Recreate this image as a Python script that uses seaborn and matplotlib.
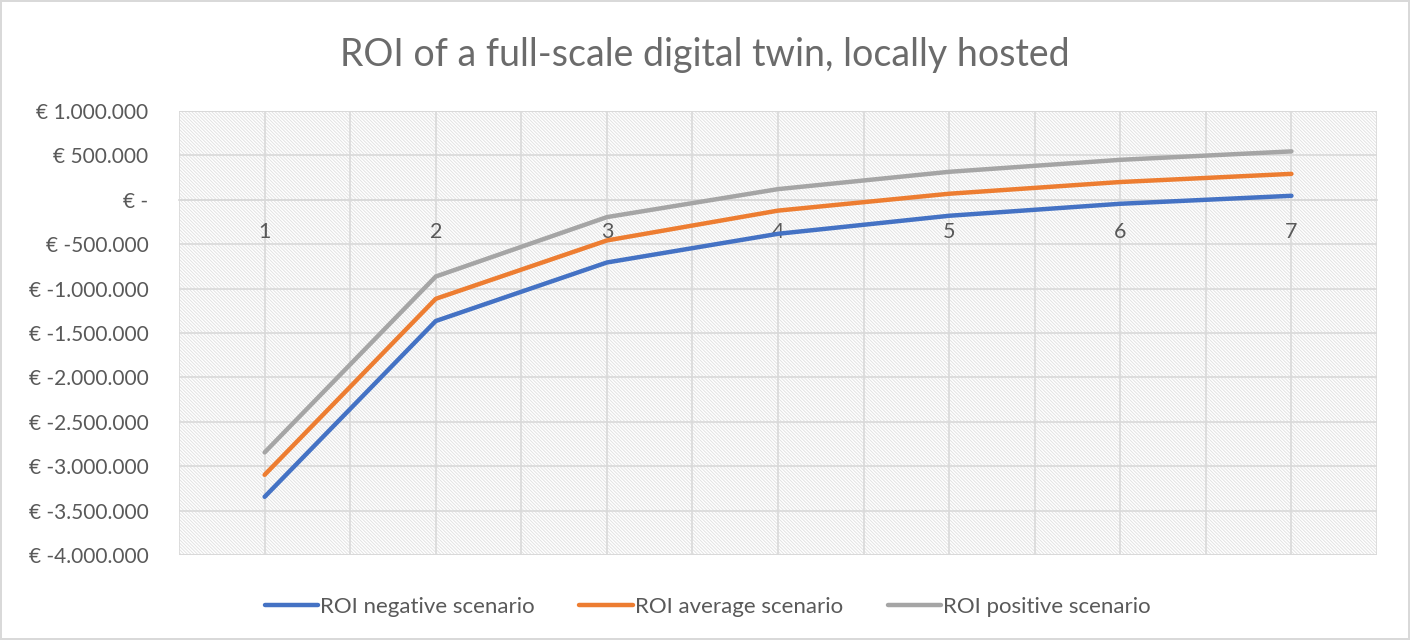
import numpy as np
import pandas as pd
import matplotlib
matplotlib.use("Agg")
import matplotlib.pyplot as plt
import seaborn as sns
from matplotlib.patches import Rectangle
from matplotlib.ticker import FuncFormatter, MultipleLocator

# Data
years = [1, 2, 3, 4, 5, 6, 7]
roi_negative = [-3345000, -1365000, -706000, -383000, -180000, -45000, 45000]
roi_average = [-3097000, -1115000, -458000, -122000, 68000, 200000, 292000]
roi_positive = [-2845000, -864000, -195000, 120000, 315000, 450000, 545000]
series_names = ["ROI negative scenario", "ROI average scenario", "ROI positive scenario"]
series_colors = ["#4472C4", "#ED7D31", "#A5A5A5"]

df = pd.DataFrame({
    "Year": years * 3,
    "ROI": roi_negative + roi_average + roi_positive,
    "Scenario": [series_names[0]] * 7 + [series_names[1]] * 7 + [series_names[2]] * 7,
})

sns.set_theme(style="white")
plt.rcParams["font.family"] = ["Lato", "DejaVu Sans"]
plt.rcParams["hatch.linewidth"] = 0.7
text_grey = "#595959"
grid_grey = "#d9d9d9"

fig = plt.figure(figsize=(14.1, 6.4), dpi=100)
fig.patch.set_edgecolor(grid_grey)
fig.patch.set_linewidth(1.5)
ax = fig.add_axes([0.127, 0.1328, 0.8496, 0.6938])

# hatched plot area like Excel's pattern fill
ax.add_patch(Rectangle((0, 0), 1, 1, transform=ax.transAxes, facecolor="white",
                       edgecolor="#e3e3e3", linewidth=0, hatch="\\" * 10, zorder=0))
ax.add_patch(Rectangle((0, 0), 1, 1, transform=ax.transAxes, facecolor="none",
                       edgecolor=grid_grey, linewidth=1.2, zorder=1))

sns.lineplot(data=df, x="Year", y="ROI", hue="Scenario", palette=series_colors,
             linewidth=3.2, ax=ax, zorder=3, legend=True)
for ln in ax.lines:
    ln.set_solid_capstyle("round")

ax.set_xlim(0.5, 7.5)
ax.set_ylim(-4000000, 1000000)
ax.yaxis.set_major_locator(MultipleLocator(500000))
ax.set_xticks(years)
ax.set_xticks([1.5, 2.5, 3.5, 4.5, 5.5, 6.5], minor=True)


def euro(v, pos):
    if abs(v) < 1:
        return "€ -"
    s = f"{abs(v):,.0f}".replace(",", ".")
    return f"€ -{s}" if v < 0 else f"€ {s}"


ax.yaxis.set_major_formatter(FuncFormatter(euro))
ax.grid(True, which="both", color=grid_grey, linewidth=1.2, zorder=1)
ax.set_axisbelow(True)

for side in ["top", "right", "left"]:
    ax.spines[side].set_visible(False)
ax.spines["bottom"].set_position(("data", 0))
ax.spines["bottom"].set_color(grid_grey)
ax.tick_params(axis="x", length=0, pad=16, labelsize=15.5, labelcolor=text_grey)
ax.tick_params(axis="y", length=0, pad=22, labelsize=15, labelcolor=text_grey)
ax.set_xlabel("")
ax.set_ylabel("")

fig.suptitle("ROI of a full-scale digital twin, locally hosted", y=0.942,
             fontsize=27, color="#6b6b6b")

handles, labels = ax.get_legend_handles_labels()
ax.get_legend().remove()
fig.legend(handles, labels, loc="center", bbox_to_anchor=(0.502, 0.052), ncol=3,
           frameon=False, fontsize=16, handlelength=2.4, handletextpad=0.1,
           columnspacing=2.0, labelcolor=text_grey)

fig.savefig("out.png", dpi=100)
